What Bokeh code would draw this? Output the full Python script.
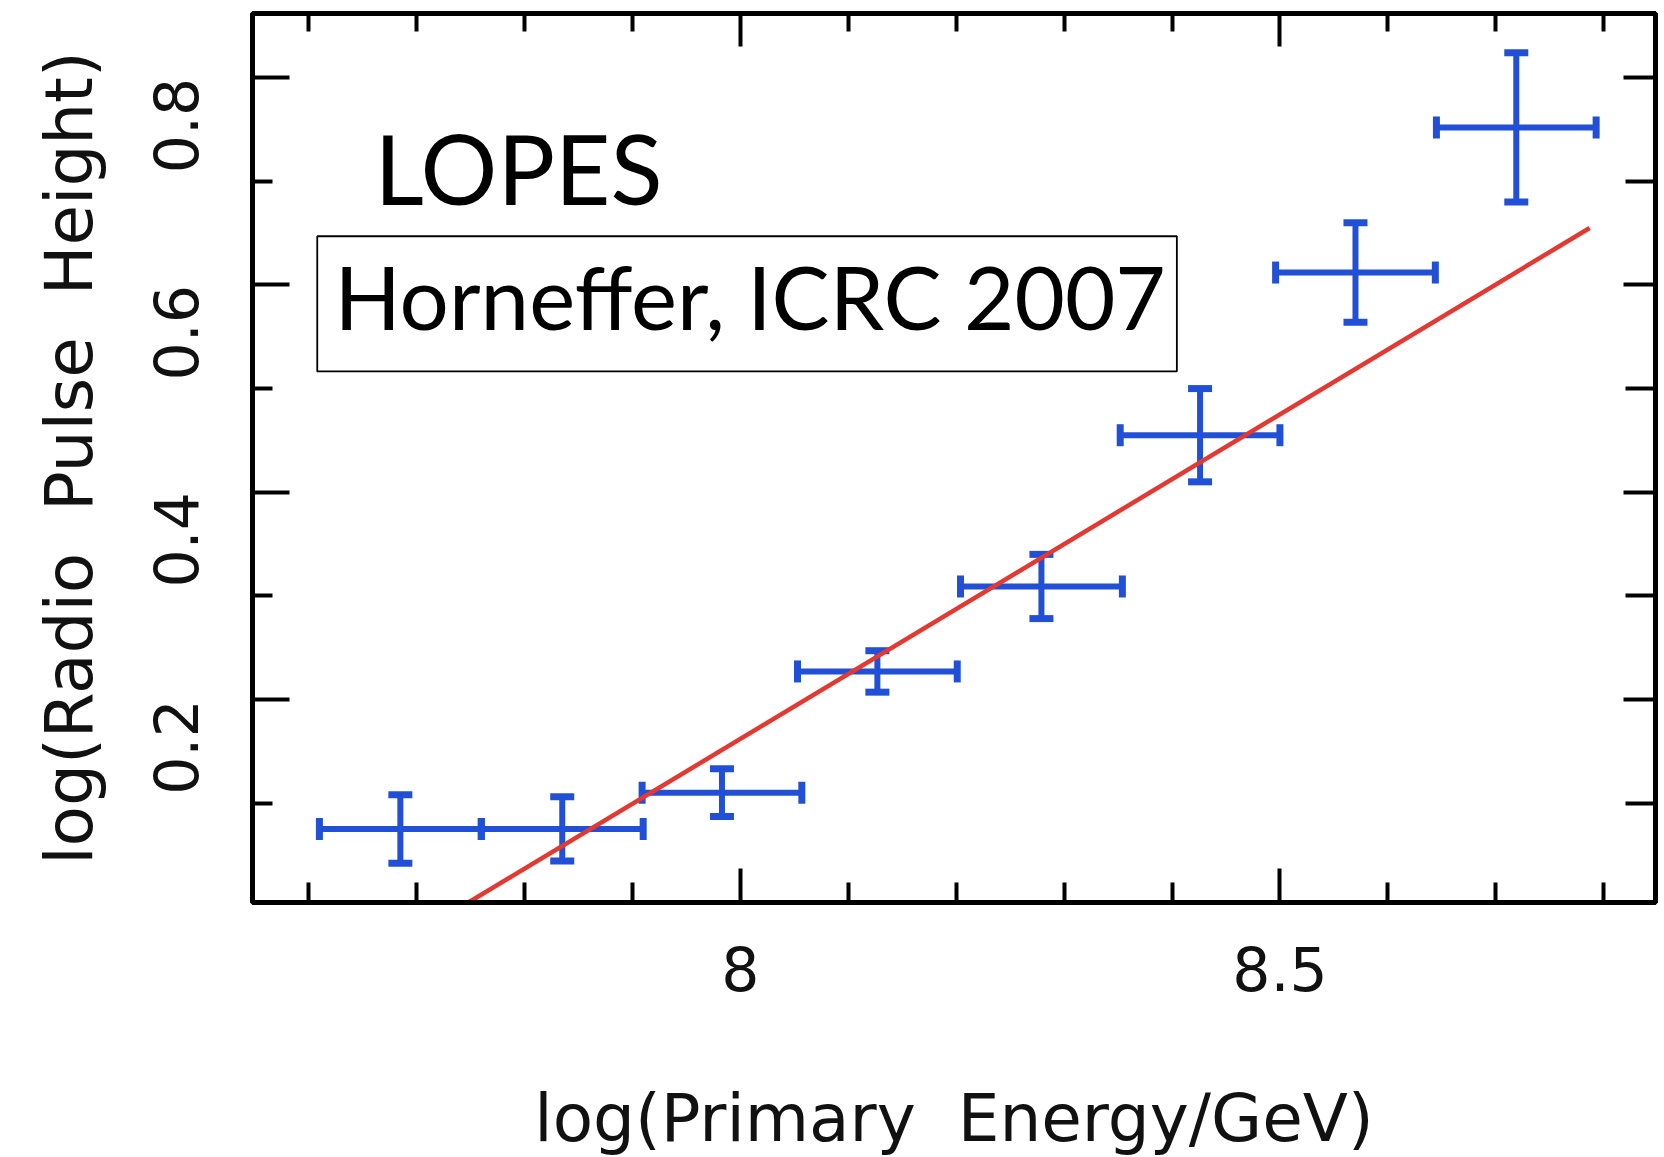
import math
from bokeh.plotting import figure
from bokeh.models import (ColumnDataSource, Whisker, TeeHead, FixedTicker, LinearAxis,
                          Label, BoxAnnotation, Range1d)
from bokeh.embed import file_html
from bokeh.resources import INLINE

# ---- data ----
x_center = [7.685, 7.835, 7.983, 8.127, 8.279, 8.426, 8.570, 8.719]
x_err    = [0.075, 0.075, 0.074, 0.074, 0.075, 0.074, 0.074, 0.074]
y_value  = [0.075, 0.075, 0.110, 0.227, 0.309, 0.455, 0.612, 0.752]
y_err    = [0.033, 0.031, 0.023, 0.020, 0.031, 0.045, 0.048, 0.072]

fit_x = [7.748, 8.787]
fit_y = [0.004, 0.655]

x_major_ticks = [8.0, 8.5]
x_minor_ticks = [7.6, 7.7, 7.8, 7.9, 8.1, 8.2, 8.3, 8.4, 8.6, 8.7, 8.8]
y_major_ticks = [0.2, 0.4, 0.6, 0.8]
y_minor_ticks = [0.1, 0.3, 0.5, 0.7]

x_title = "log(Primary\u00a0\u00a0Energy/GeV)"
y_title = "log(Radio\u00a0\u00a0Pulse\u00a0\u00a0Height)"
title_text = "LOPES"
ref_text = "Horneffer, ICRC 2007"

BLUE = "#2150d6"
RED = "#e23a32"
AX_FONT = "DejaVu Sans"
ANN_FONT = "Lato"

src = ColumnDataSource(dict(
    x=x_center,
    y=y_value,
    x_lo=[a - b for a, b in zip(x_center, x_err)],
    x_hi=[a + b for a, b in zip(x_center, x_err)],
    y_lo=[a - b for a, b in zip(y_value, y_err)],
    y_hi=[a + b for a, b in zip(y_value, y_err)],
))

p = figure(frame_width=1403, frame_height=889,
           min_border_left=252, min_border_right=9,
           min_border_top=13, min_border_bottom=255,
           x_range=Range1d(7.548, 8.848), y_range=Range1d(0.004, 0.862),
           output_backend="svg", toolbar_location=None,
           background_fill_color="white", border_fill_color="white")

p.xgrid.visible = False
p.ygrid.visible = False
p.outline_line_color = "black"
p.outline_line_width = 5

xt = FixedTicker(ticks=x_major_ticks, minor_ticks=x_minor_ticks)
yt = FixedTicker(ticks=y_major_ticks, minor_ticks=y_minor_ticks)

def style_axis(ax, major_len, minor_len, show_labels):
    ax.axis_line_color = "black"
    ax.axis_line_width = 5
    ax.major_tick_in = major_len
    ax.major_tick_out = 0
    ax.minor_tick_in = minor_len
    ax.minor_tick_out = 0
    ax.major_tick_line_width = 4
    ax.minor_tick_line_width = 4
    ax.major_tick_line_color = "black"
    ax.minor_tick_line_color = "black"
    if show_labels:
        ax.major_label_text_font = AX_FONT
        ax.major_label_text_font_size = "60px"
        ax.major_label_text_color = "#111111"
        ax.axis_label_text_font = AX_FONT
        ax.axis_label_text_font_size = "66px"
        ax.axis_label_text_font_style = "normal"
        ax.axis_label_text_color = "#111111"
    else:
        ax.major_label_text_font_size = "1px"
        ax.major_label_text_color = None
        ax.major_label_standoff = 0

xa = p.xaxis[0]
xa.ticker = xt
style_axis(xa, 34, 20, True)
xa.axis_label = x_title
xa.major_label_standoff = 43
xa.axis_label_standoff = 86

ya = p.yaxis[0]
ya.ticker = yt
style_axis(ya, 37, 20, True)
ya.axis_label = y_title
ya.major_label_orientation = math.pi / 2
ya.major_label_standoff = 77
ya.axis_label_standoff = 20

top = LinearAxis(ticker=xt)
style_axis(top, 33, 18, False)
p.add_layout(top, "above")

right = LinearAxis(ticker=yt)
style_axis(right, 32, 30, False)
p.add_layout(right, "right")

# fit line
p.line(fit_x, fit_y, line_color=RED, line_width=4.5)

# error bars
hx = Whisker(source=src, base="y", lower="x_lo", upper="x_hi", dimension="width",
             line_color=BLUE, line_width=6,
             lower_head=TeeHead(size=22, line_color=BLUE, line_width=7),
             upper_head=TeeHead(size=22, line_color=BLUE, line_width=7))
vy = Whisker(source=src, base="x", lower="y_lo", upper="y_hi", dimension="height",
             line_color=BLUE, line_width=6,
             lower_head=TeeHead(size=24, line_color=BLUE, line_width=7),
             upper_head=TeeHead(size=24, line_color=BLUE, line_width=7))
p.add_layout(hx)
p.add_layout(vy)

# annotations
p.add_layout(BoxAnnotation(left=7.608, right=8.4045, top=0.647, bottom=0.5166,
                           fill_alpha=0.0, line_color="black", line_alpha=1.0,
                           line_width=1.8))
p.add_layout(Label(x=7.661, y=0.713, text=title_text, text_font=ANN_FONT,
                   text_font_size="96px", text_font_style="normal",
                   text_color="black",
                   text_baseline="alphabetic", text_align="left"))
p.add_layout(Label(x=7.624, y=0.589, text=ref_text, text_font=ANN_FONT,
                   text_font_size="87px", text_font_style="normal",
                   text_color="black",
                   text_baseline="alphabetic", text_align="left"))

open("out.html", "w").write(file_html(p, INLINE))
